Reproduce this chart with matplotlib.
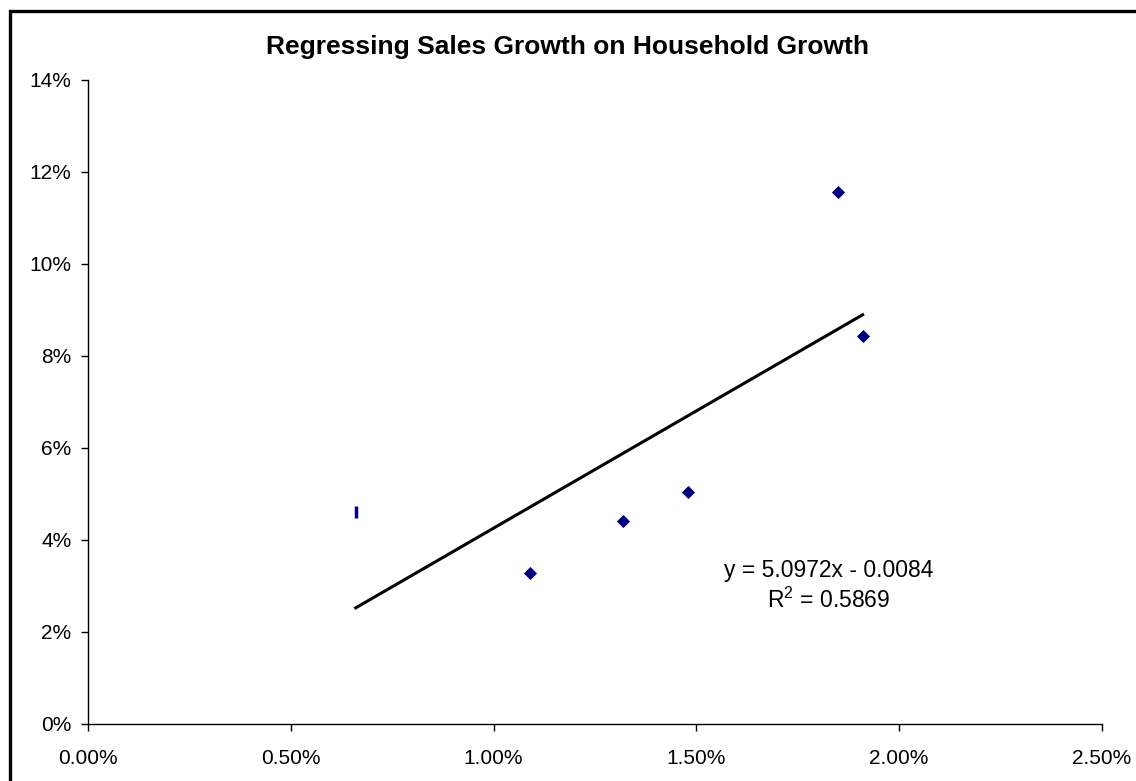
import numpy as np
import matplotlib.pyplot as plt
from matplotlib.ticker import PercentFormatter
from matplotlib.patches import Rectangle

plt.rcParams['font.family'] = ['Liberation Sans', 'DejaVu Sans']
plt.rcParams['mathtext.default'] = 'regular'

# Household growth (x) vs sales growth (y), as fractions
household_growth = [0.0066, 0.0109, 0.0132, 0.0148, 0.0185, 0.0191]
sales_growth = [0.0460, 0.0328, 0.0441, 0.0504, 0.1157, 0.0843]

# Linear trendline coefficients
slope = 5.0972
intercept = -0.0084
r_squared = 0.5869

fig = plt.figure(figsize=(11.36, 7.81), dpi=100)
ax = fig.add_axes([0.0775, 0.073, 0.8925, 0.8246])

# first point shows as a thin bar, the rest as diamonds
ax.plot(household_growth[:1], sales_growth[:1], linestyle='none', marker='|',
        markersize=9, markeredgewidth=2.5, color='#000080')
ax.plot(household_growth[1:], sales_growth[1:], linestyle='none', marker='D',
        markersize=6, markeredgewidth=0.6, color='#000080')

xs = np.array([min(household_growth), max(household_growth)])
ax.plot(xs, slope * xs + intercept, color='black', linewidth=2.2)

sign = '-' if intercept < 0 else '+'
ax.text(0.7308, 0.214,
        f'y = {slope:.4f}x {sign} {abs(intercept):.4f}\nR$^2$ = {r_squared:.4f}',
        transform=ax.transAxes, ha='center', va='center', fontsize=16.5,
        linespacing=1.3)

ax.set_xlim(0, 0.025)
ax.set_ylim(0, 0.14)
ax.set_xticks(np.arange(0, 0.0251, 0.005))
ax.set_yticks(np.arange(0, 0.141, 0.02))
ax.xaxis.set_major_formatter(PercentFormatter(xmax=1, decimals=2))
ax.yaxis.set_major_formatter(PercentFormatter(xmax=1, decimals=0))
ax.tick_params(axis='x', labelsize=15, length=5, width=1, pad=13)
ax.tick_params(axis='y', labelsize=15, length=5, width=1, pad=7)

for side in ['top', 'right']:
    ax.spines[side].set_visible(False)
for side in ['left', 'bottom']:
    ax.spines[side].set_linewidth(1.0)

fig.text(0.5, 0.94, 'Regressing Sales Growth on Household Growth',
         ha='center', va='center', fontsize=19, fontweight='bold')

# chart frame running off the right and bottom edges
fig.patches.append(Rectangle((9.5 / 1136, -0.1), 1.2, 1.1 - 10.5 / 781,
                             transform=fig.transFigure, fill=False,
                             edgecolor='black', linewidth=2.4))

fig.savefig('out.png', dpi=100)
